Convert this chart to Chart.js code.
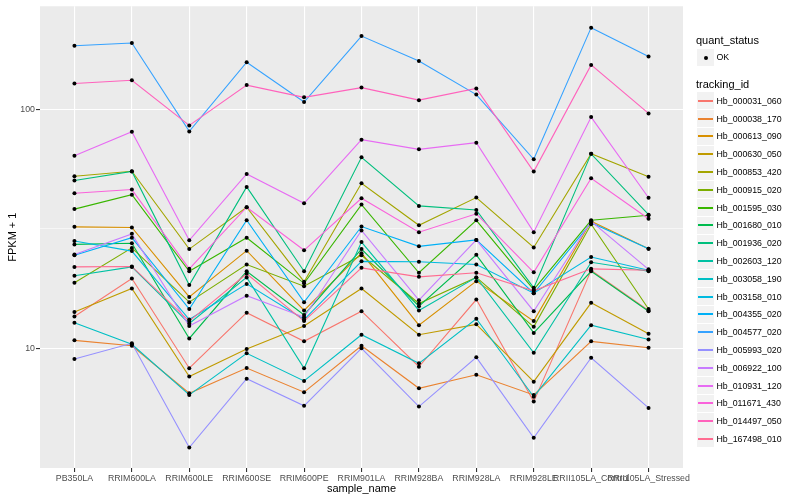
<!DOCTYPE html>
<html>
<head>
<meta charset="utf-8">
<script src="https://cdn.jsdelivr.net/npm/chart.js@4.4.0/dist/chart.umd.min.js"></script>
<style>
body { margin: 0; background: #fff; font-family: "Liberation Sans", Arial, sans-serif; }
#wrap { position: relative; width: 800px; height: 500px; }
#legend div { position: absolute; white-space: nowrap; }
</style>
</head>
<body>
<div id="wrap">
  <canvas id="fpkm-chart"></canvas>
  <div id="legend"></div>
</div>
<script>
// samples on the x axis
const sampleNames = ['PB350LA', 'RRIM600LA', 'RRIM600LE', 'RRIM600SE', 'RRIM600PE', 'RRIM901LA',
  'RRIM928BA', 'RRIM928LA', 'RRIM928LE', 'RRII105LA_Control', 'RRII105LA_Stressed'];

const trackingIds = ['Hb_000031_060', 'Hb_000038_170', 'Hb_000613_090', 'Hb_000630_050', 'Hb_000853_420',
  'Hb_000915_020', 'Hb_001595_030', 'Hb_001680_010', 'Hb_001936_020', 'Hb_002603_120',
  'Hb_003058_190', 'Hb_003158_010', 'Hb_004355_020', 'Hb_004577_020', 'Hb_005993_020',
  'Hb_006922_100', 'Hb_010931_120', 'Hb_011671_430', 'Hb_014497_050', 'Hb_167498_010'];

// FPKM + 1 per gene, one value per sample
const hb_000031_060 = [13.6, 19.6, 8.26, 14.1, 10.7, 14.3, 8.38, 16.0, 5.99, 21.2, 14.4];
const hb_000038_170 = [10.8, 10.25, 6.49, 8.28, 6.56, 10.25, 6.81, 7.76, 6.39, 10.7, 10.06];
const hb_000613_090 = [32.2, 32.0, 16.4, 25.6, 14.4, 25.0, 12.5, 19.1, 13.0, 34.0, 26.1];
const hb_000630_050 = [14.2, 17.8, 7.62, 9.93, 12.4, 17.8, 11.4, 12.6, 7.26, 15.5, 11.5];
const hb_000853_420 = [52.4, 55.0, 26.0, 38.9, 19.0, 49.0, 32.7, 42.7, 26.4, 65.1, 52.2];
const hb_000915_020 = [18.8, 26.3, 15.6, 22.4, 18.2, 24.5, 15.4, 19.8, 12.3, 33.0, 14.6];
const hb_001595_030 = [38.2, 43.9, 21.0, 29.0, 18.7, 39.9, 20.7, 34.3, 17.6, 34.3, 36.0];
const hb_001680_010 = [27.2, 27.5, 11.0, 21.0, 13.8, 26.0, 15.0, 24.6, 11.6, 21.0, 14.3];
const hb_001936_020 = [50.3, 54.9, 18.4, 47.3, 21.0, 62.9, 39.4, 37.9, 17.9, 65.0, 36.2];
const hb_002603_120 = [20.1, 21.9, 12.7, 19.8, 8.26, 27.8, 14.4, 19.8, 9.58, 22.9, 21.0];
const hb_003058_190 = [12.8, 10.4, 6.39, 9.53, 7.31, 11.4, 8.66, 13.3, 6.28, 12.5, 10.9];
const hb_003158_010 = [28.1, 25.5, 13.2, 18.6, 13.2, 23.1, 23.0, 22.4, 17.0, 24.1, 21.2];
const hb_004355_020 = [24.5, 29.0, 14.6, 34.3, 15.6, 32.3, 26.7, 28.4, 17.0, 33.5, 26.1];
const hb_004577_020 = [184, 189, 80.7, 157, 107, 202, 159, 115, 61.7, 219, 166];
const hb_005993_020 = [9.03, 10.5, 3.85, 7.47, 5.75, 10.0, 5.71, 9.17, 4.23, 9.14, 5.64];
const hb_006922_100 = [24.7, 30.1, 12.4, 16.6, 13.5, 31.1, 15.9, 28.4, 14.3, 34.0, 21.4];
const hb_010931_120 = [63.9, 80.4, 28.3, 53.6, 40.4, 74.5, 67.9, 72.4, 30.6, 92.6, 42.6];
const hb_011671_430 = [44.5, 46.1, 21.5, 38.9, 25.7, 42.4, 30.6, 36.5, 20.8, 51.4, 34.8];
const hb_014497_050 = [128, 132, 85.5, 126, 112, 123, 109, 122, 54.8, 153, 95.9];
const hb_167498_010 = [21.9, 22.0, 13.0, 20.5, 13.0, 21.7, 19.9, 20.7, 17.4, 21.5, 21.2];

const seriesValues = [hb_000031_060, hb_000038_170, hb_000613_090, hb_000630_050, hb_000853_420,
  hb_000915_020, hb_001595_030, hb_001680_010, hb_001936_020, hb_002603_120,
  hb_003058_190, hb_003158_010, hb_004355_020, hb_004577_020, hb_005993_020,
  hb_006922_100, hb_010931_120, hb_011671_430, hb_014497_050, hb_167498_010];

const yTickValues = [10, 31.623, 100];
const yTickLabels = ['10', '', '100'];

// ggplot hue palette, 20 levels
const lineColors = ['#F8766D', '#EA8331', '#D89000', '#C09B00', '#A3A500', '#7CAE00', '#39B600',
  '#00BB4E', '#00BF7D', '#00C1A3', '#00BFC4', '#00BAE0', '#00B0F6', '#35A2FF', '#9590FF',
  '#C77CFF', '#E76BF3', '#FA62DB', '#FF62BC', '#FF6C91'];

const axisFont = { family: '"Liberation Sans", Arial, sans-serif', size: 8.8 };
const titleFont = { family: '"Liberation Sans", Arial, sans-serif', size: 11 };

const lineSets = seriesValues.map((vals, i) => ({
    label: trackingIds[i],
    data: vals.map((v, j) => ({ x: j, y: v })),
    borderColor: lineColors[i],
    borderWidth: 1.1,
    pointRadius: 0,
    fill: false,
    order: -i
}));
const pointSets = seriesValues.map((vals, i) => ({
    label: trackingIds[i] + ' OK',
    data: vals.map((v, j) => ({ x: j, y: v })),
    showLine: false,
    pointRadius: 2,
    pointBackgroundColor: '#000',
    pointBorderWidth: 0,
    order: -100 - i
}));

const panelBg = {
    id: 'panelBg',
    beforeDraw(chart) {
        const a = chart.chartArea;
        chart.ctx.save();
        chart.ctx.fillStyle = '#EBEBEB';
        chart.ctx.fillRect(a.left, a.top, a.right - a.left, a.bottom - a.top);
        chart.ctx.restore();
    }
};

const isMinor = (ctx) => ctx.tick && yTickLabels[yTickValues.indexOf(ctx.tick.value)] === '';

const ctx = document.getElementById('fpkm-chart').getContext('2d');
const fpkmChart = new Chart(ctx, {
    type: 'line',
    data: { datasets: lineSets.concat(pointSets) },
    options: {
        responsive: true,
        maintainAspectRatio: false,
        animation: false,
        layout: { padding: { left: 0, top: 5, right: 117, bottom: 0 } },
        plugins: { legend: { display: false }, tooltip: { enabled: false } },
        scales: {
            x: {
                type: 'linear',
                bounds: 'data',
                min: -0.6,
                max: 10.6,
                afterBuildTicks: (s) => { s.ticks = sampleNames.map((n, i) => ({ value: i })); },
                afterFit: (s) => { s.height = 32; },
                ticks: {
                    callback: (v) => sampleNames[v],
                    autoSkip: false, maxRotation: 0, padding: 1,
                    color: '#4D4D4D', font: axisFont
                },
                grid: { color: '#FFFFFF', lineWidth: 1.1, tickColor: '#333333', tickLength: 4 },
                border: { display: false },
                title: { display: true, text: 'sample_name', color: '#000', font: titleFont,
                         padding: { top: 0, bottom: 4 } }
            },
            y: {
                type: 'logarithmic',
                bounds: 'data',
                min: 3.1623,
                max: 269,
                afterBuildTicks: (s) => { s.ticks = yTickValues.map(v => ({ value: v })); },
                afterFit: (s) => { s.width = 40; },
                ticks: {
                    callback: (v) => yTickLabels[yTickValues.indexOf(v)],
                    padding: 1, color: '#4D4D4D', font: axisFont
                },
                grid: {
                    color: '#FFFFFF',
                    lineWidth: (c) => isMinor(c) ? 0.55 : 1.1,
                    tickColor: (c) => isMinor(c) ? 'rgba(0,0,0,0)' : '#333333',
                    tickLength: 4
                },
                border: { display: false },
                title: { display: true, text: 'FPKM + 1', color: '#000', font: titleFont,
                         padding: { top: 6, bottom: 0 } }
            }
        }
    },
    plugins: [panelBg]
});

// ggplot-style legend on the right
const legend = document.getElementById('legend');
function addDiv(style, text) {
    const d = document.createElement('div');
    Object.assign(d.style, style);
    if (text) d.textContent = text;
    legend.appendChild(d);
    return d;
}
addDiv({ left: '696px', top: '34px', fontSize: '11px', lineHeight: '13px' }, 'quant_status');
addDiv({ left: '697px', top: '49px', width: '17px', height: '17px', background: '#F2F2F2' });
addDiv({ left: '703.5px', top: '55.5px', width: '4px', height: '4px', borderRadius: '50%', background: '#000' });
addDiv({ left: '716.5px', top: '52px', fontSize: '8.8px', lineHeight: '10px' }, 'OK');
addDiv({ left: '696px', top: '77.5px', fontSize: '11px', lineHeight: '13px' }, 'tracking_id');
trackingIds.forEach((id, i) => {
    const cy = 100.7 + 17.8 * i;
    addDiv({ left: '697px', top: (cy - 8.6) + 'px', width: '17px', height: '17.2px', background: '#F2F2F2' });
    addDiv({ left: '698px', top: Math.round(cy - 1) + 'px', width: '15px', height: '2px', background: lineColors[i] });
    addDiv({ left: '716.5px', top: (cy - 5) + 'px', fontSize: '8.8px', lineHeight: '10px' }, id);
});
</script>
</body>
</html>
